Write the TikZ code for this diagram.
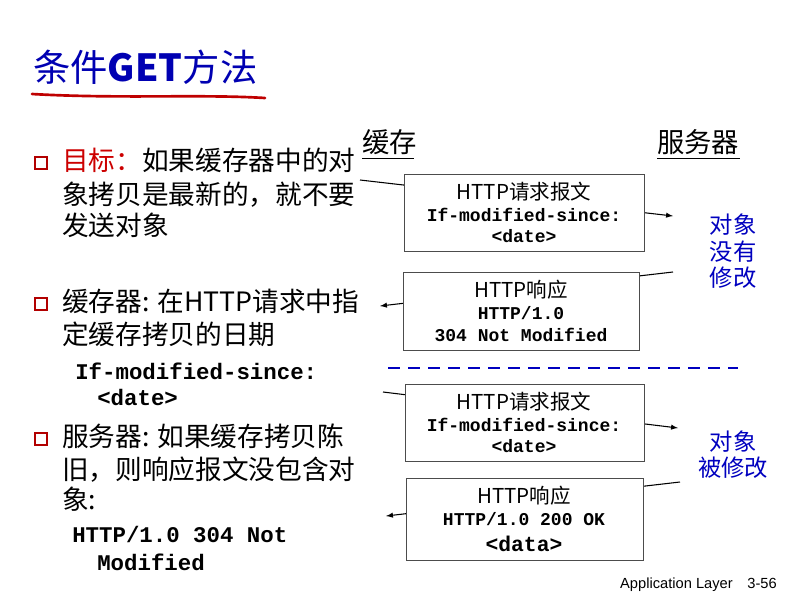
\documentclass[tikz,border=0pt]{standalone}
\usepackage{fontspec}
\setmainfont{Liberation Sans}
\newfontfamily\cjk{Noto Sans CJK SC}
\newfontfamily\mono{Liberation Mono}
\begin{document}
\begin{tikzpicture}[x=0.75pt,y=-0.75pt,
  t/.style={anchor=base west,inner sep=0,font=\cjk\fontsize{20}{22}\selectfont},
  m/.style={anchor=base west,inner sep=0,font=\mono\bfseries\fontsize{16.8}{18}\selectfont},
  box/.style={draw=black!70,fill=white,line width=0.8pt,inner sep=0,anchor=north west},
  bt/.style={inner sep=0,font=\cjk\fontsize{15.4}{17}\selectfont},
  bm/.style={inner sep=0,font=\mono\bfseries\fontsize{13.5}{15}\selectfont},
  bl/.style={inner sep=0,text=blue!75!black,font=\cjk\fontsize{17.5}{19}\selectfont},
  msg/.style={line width=0.8pt},
  bul/.style={draw=red!70!black,line width=0.8pt,minimum size=9pt,inner sep=0}]
\useasboundingbox (0,0) rectangle (807,604);
% title
\node[anchor=base west,inner sep=0,text=blue!70!black,font=\cjk\fontsize{28}{30}\selectfont] (title) at (33,81) {条件\textbf{GET}方法};
\draw[red!75!black,line width=2pt,line cap=round] (32,94) .. controls (120,99) and (200,94) .. (265,98);
% headers
\node[t,font=\cjk\fontsize{20.5}{22}\selectfont] (cache) at (362,152) {缓存};
\draw (cache.south west)++(0,4) -- ++(52,0);
\node[t,font=\cjk\fontsize{20.5}{22}\selectfont] (server) at (657,152) {服务器};
\draw (server.south west)++(0,4) -- ++(83,0);
% messages lines
\coordinate (a1) at (360,180); \coordinate (a2) at (673,216);
\coordinate (b1) at (673,272); \coordinate (b2) at (380,306);
\coordinate (c1) at (383,392); \coordinate (c2) at (678,428);
\coordinate (d1) at (680,482); \coordinate (d2) at (386,516);
\draw[msg,-latex] (a1) -- (a2);
\draw[msg,-latex] (b1) -- (b2);
\draw[msg,-latex] (c1) -- (c2);
\draw[msg,-latex] (d1) -- (d2);
% boxes
\node[box,minimum width=240*0.75pt,minimum height=77*0.75pt] (B1) at (404,174) {};
\node[bt] at (524,192) {HTTP请求报文};
\node[bm] at (524,215) {If-modified-since:};
\node[bm] at (524,236) {<date>};
\node[box,minimum width=236*0.75pt,minimum height=78*0.75pt] (B2) at (403,272) {};
\node[bt] at (521,290) {HTTP响应};
\node[bm] at (521,313) {HTTP/1.0};
\node[bm] at (521,335) {304 Not Modified};
\node[box,minimum width=239*0.75pt,minimum height=77*0.75pt] (B3) at (405,384) {};
\node[bt] at (524,402) {HTTP请求报文};
\node[bm] at (524,425) {If-modified-since:};
\node[bm] at (524,446) {<date>};
\node[box,minimum width=237*0.75pt,minimum height=82*0.75pt] (B4) at (406,478) {};
\node[bt] at (524,496) {HTTP响应};
\node[bm] at (524,519) {HTTP/1.0 200 OK};
\node[bm,font=\mono\bfseries\fontsize{16}{18}\selectfont] at (524,544) {<data>};
% blue labels
\node[bl] at (733,225) {对象};
\node[bl] at (733,252) {没有};
\node[bl] at (733,278) {修改};
\node[bl] at (733,442) {对象};
\node[bl] at (733,468) {被修改};
\draw[blue!75!black,line width=2pt,dash pattern=on 9pt off 6pt] (388,368) -- (738,368);
% left text
\node[bul] (p1) at (41,163) {};
\node[t] (l1) at (62,170) {\textcolor{red!80!black}{目标：}如果缓存器中的对};
\node[t] (l2) at (62,204) {象拷贝是最新的，就不要};
\node[t] (l3) at (62,235) {发送对象};
\node[bul] (p2) at (41,304) {};
\node[t] (l4) at (62,311) {缓存器: 在HTTP请求中指};
\node[t] (l5) at (62,344) {定缓存拷贝的日期};
\node[m] (l6) at (75,379) {If-modified-since:};
\node[m] (l7) at (97,405) {<date>};
\node[bul] (p3) at (41,439) {};
\node[t] (l8) at (62,446) {服务器: 如果缓存拷贝陈};
\node[t] (l9) at (62,479) {旧，则响应报文没包含对};
\node[t] (l10) at (62,509) {象:};
\node[m] (l11) at (72,542) {HTTP/1.0 304 Not};
\node[m] (l12) at (97,570) {Modified};
\node[anchor=base east,inner sep=0,font=\fontsize{11}{12}\selectfont] (foot) at (777,588) {Application Layer\quad 3-56};
\end{tikzpicture}
\end{document}
